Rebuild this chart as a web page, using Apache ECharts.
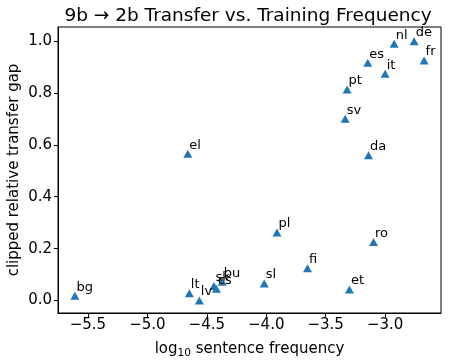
<!DOCTYPE html>
<html>
<head>
<meta charset="utf-8">
<script src="https://cdn.jsdelivr.net/npm/echarts@6/dist/echarts.min.js"></script>
<style>html,body{margin:0;padding:0;background:#fff}#c{width:449px;height:363px}</style>
</head>
<body>
<div id="c"></div>
<script>
const langs   = ['bg','el','lt','lv','sk','cs','bu','sl','pl','fi','et','ro','da','sv','pt','es','it','nl','de','fr'];
const logFreq = [-5.61,-4.66,-4.647,-4.563,-4.44,-4.42,-4.37,-4.017,-3.91,-3.653,-3.30,-3.098,-3.14,-3.336,-3.32,-3.146,-3.0,-2.924,-2.756,-2.672];
const gap     = [0.018,0.566,0.028,0.0,0.056,0.045,0.072,0.066,0.262,0.124,0.043,0.226,0.56,0.70,0.813,0.916,0.874,0.989,0.999,0.925];
const xTicks  = [-5.5,-5.0,-4.5,-4.0,-3.5,-3.0];
const yTicks  = [0.0,0.2,0.4,0.6,0.8,1.0];

const FONT = 'DejaVu Sans';
const chart = echarts.init(document.getElementById('c'), null, {renderer:'canvas'});
const data = langs.map((l,i)=>({name:l, value:[logFreq[i], gap[i]]}));
const axisLine = {show:true, onZero:false, lineStyle:{color:'#000', width:1}};
chart.setOption({
  animation:false,
  textStyle:{fontFamily:FONT},
  title:{
    text:'9b \u2192 2b Transfer vs. Training Frequency',
    left:243, top:2, textAlign:'center',
    textStyle:{fontFamily:FONT, fontSize:18.5, fontWeight:'normal', color:'#000'}
  },
  grid:{left:58, right:8, top:27, bottom:50, show:true, borderColor:'#000', borderWidth:1,
        containLabel:false, outerBoundsMode:'none'},
  xAxis:{
    type:'value', min:-5.752, max:-2.53,
    axisLine:axisLine,
    splitLine:{show:false},
    axisTick:{show:true, length:4, customValues:xTicks, lineStyle:{color:'#000'}},
    axisLabel:{customValues:xTicks, fontFamily:FONT, fontSize:15, color:'#000', margin:5,
      formatter:v=>(v<0?'\u2212':'')+Math.abs(v).toFixed(1)},
    name:'{a|log}{s|10}{a| sentence frequency}', nameLocation:'middle', nameGap:27,
    nameTextStyle:{rich:{a:{fontFamily:FONT,fontSize:15,color:'#000'}, s:{fontFamily:FONT,fontSize:10.5,color:'#000',padding:[8,0,0,0]}}}
  },
  yAxis:{
    type:'value', min:-0.048, max:1.054,
    axisLine:axisLine,
    splitLine:{show:false},
    axisTick:{show:true, length:4, customValues:yTicks, lineStyle:{color:'#000'}},
    axisLabel:{customValues:yTicks, fontFamily:FONT, fontSize:15, color:'#000', margin:6,
      formatter:v=>v.toFixed(1)},
    name:'clipped relative transfer gap', nameLocation:'middle', nameGap:36, nameMoveOverlap:false,
    nameTextStyle:{fontFamily:FONT, fontSize:15, color:'#000'}
  },
  series:[{
    type:'scatter', symbol:'triangle', symbolSize:[9,8],
    itemStyle:{color:'#1f77b4', opacity:1},
    data:data,
    label:{show:true, formatter:'{b}', position:[6,2], align:'left', verticalAlign:'bottom',
      fontFamily:FONT, fontSize:13, color:'#000'},
    labelLayout:{hideOverlap:false}
  }]
});
</script>
</body>
</html>
